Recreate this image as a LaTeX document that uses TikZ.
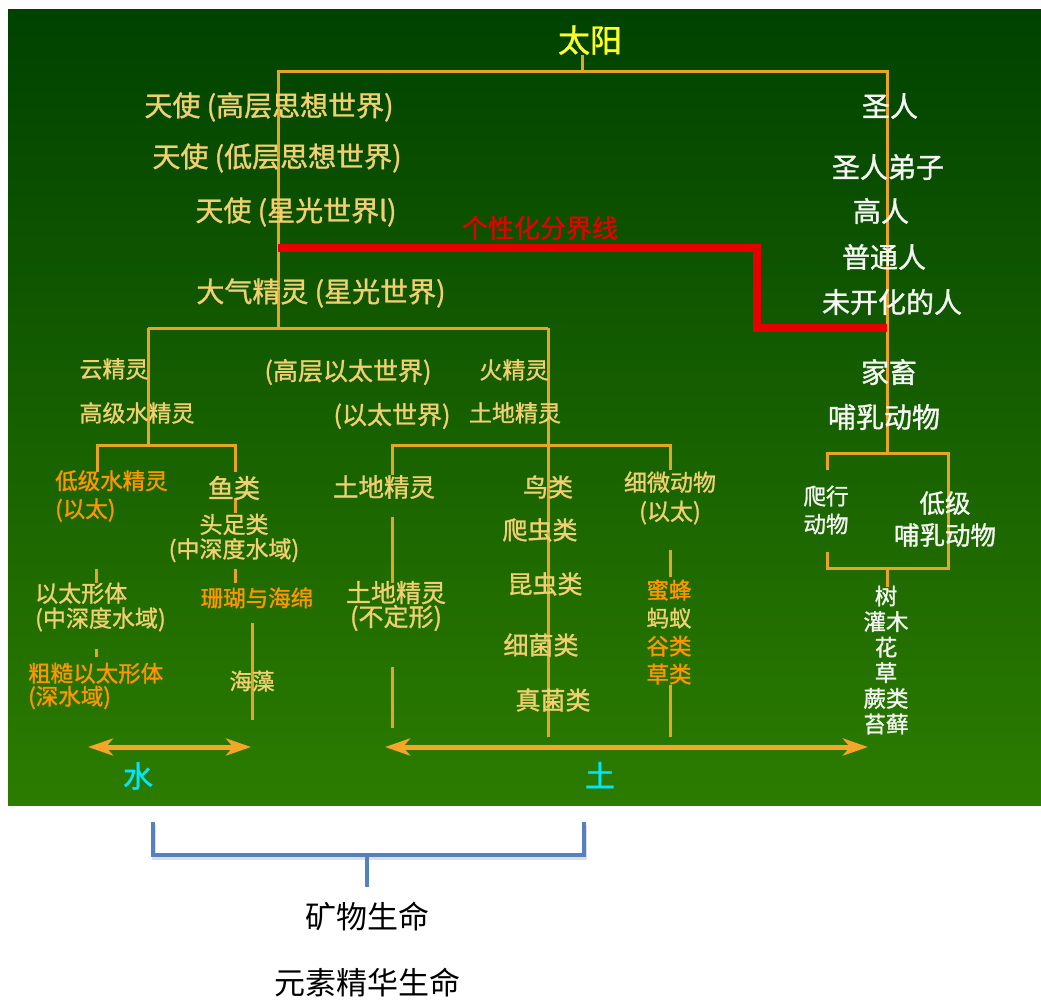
\documentclass[tikz,border=0pt]{standalone}
\usepackage{fontspec}
\setmainfont{Noto Sans CJK SC}
\newfontfamily\gfont[FakeBold=1.2]{Noto Sans CJK SC}
\usetikzlibrary{arrows.meta}
\definecolor{bgtop}{RGB}{0,66,0}
\definecolor{bgbot}{RGB}{44,124,0}
\definecolor{gline}{RGB}{230,165,35}
\definecolor{pale}{RGB}{240,208,112}
\definecolor{orng}{RGB}{255,150,0}
\definecolor{wht}{RGB}{245,245,245}
\definecolor{sunc}{RGB}{255,255,40}
\definecolor{redl}{RGB}{230,0,0}
\definecolor{cyanc}{RGB}{0,230,255}
\definecolor{brk}{RGB}{84,130,190}
\definecolor{arr}{RGB}{245,165,40}
\begin{document}
\begin{tikzpicture}[x=1pt,y=-1pt,
  lbl/.style={inner sep=0pt, align=center},
  fs/.style 2 args={font=\gfont\fontsize{#1}{#2}\selectfont},
  gl/.style={draw=gline, line width=3pt},
  dbl/.style={draw=arr, line width=5pt, {Stealth[length=25pt,width=17pt,inset=7pt]}-{Stealth[length=25pt,width=17pt,inset=7pt]}},
  pl/.style={lbl, text=pale},
  og/.style={lbl, text=orng},
  wt/.style={lbl, text=wht},
  bt/.style={lbl, text=black, font=\fontsize{31}{35}\selectfont},
]
\useasboundingbox (0,0) rectangle (1041,999);
\fill[white] (0,0) rectangle (1041,999);
\shade[top color=bgtop, bottom color=bgbot] (8,9) rectangle (1041,805);

% coordinates
\coordinate (sunstem) at (582,55);
\coordinate (tm) at (582,71);
\coordinate (tl) at (278,71);
\coordinate (tr) at (887,71);
\coordinate (lb) at (278,328);
\coordinate (hl) at (148,328);
\coordinate (hr) at (548,328);
\coordinate (wj) at (148,445);
\coordinate (wl) at (97,445);
\coordinate (wr) at (235,445);
\coordinate (el) at (392,445);
\coordinate (er) at (670,445);
\coordinate (rj) at (887,453);
\coordinate (rl) at (827,453);
\coordinate (rr) at (948,453);
\coordinate (rbl) at (827,568);
\coordinate (rbr) at (948,568);
\coordinate (rbm) at (887,568);

% gold tree lines
\draw[gl] (sunstem) -- (tm);
\draw[gl] (lb) -- (tl) -- (tr) -- (rj);
\draw[gl] (hl) -- (hr);
\draw[gl] (hl) -- (wj);
\draw[gl] (wl |- 0,472) -- (wl) -- (wr) -- (wr |- 0,472);
\draw[gl] (235,498) -- (235,513);
\draw[gl] (96,569) -- (96,583);
\draw[gl] (235,569) -- (235,583);
\draw[gl] (96,649) -- (96,657);
\draw[gl] (252,623) -- (252,720);
\draw[gl] (hr) -- (548,737);
\draw[gl] (el |- 0,475) -- (el) -- (er) -- (er |- 0,470);
\draw[gl] (392,517) -- (392,583);
\draw[gl] (392,667) -- (392,728);
\draw[gl] (670,550) -- (670,577);
\draw[gl] (670,685) -- (670,737);
\draw[gl] (rl |- 0,470) -- (rl) -- (rr) -- (rbr) -- (rbl) -- (rl |- 0,552);
\draw[gl] (rbm) -- (887,587);

% red boundary line
\draw[redl, line width=8pt] (278,248) -- (757,248) -- (757,328) -- (887,328);

% arrows
\coordinate (wa1) at (88,747);
\coordinate (wa2) at (251,747);
\coordinate (ea1) at (385,747);
\coordinate (ea2) at (868,747);
\draw[dbl] (wa1) -- (wa2);
\draw[dbl] (ea1) -- (ea2);

% texts
\node[lbl, fs={32}{36}, text=sunc] (sun) at (590,40) {太阳};
\node[pl, fs={28}{32}] (a1) at (269,107) {天使 (高层思想世界)};
\node[pl, fs={28}{32}] (a2) at (277,158) {天使 (低层思想世界)};
\node[pl, fs={28}{32}] (a3) at (296,212) {天使 (星光世界l)};
\node[pl, fs={28}{32}] (a4) at (321,293) {大气精灵 (星光世界)};
\node[lbl, fs={26}{30}, text=redl] (redlbl) at (540,228) {个性化分界线};

\node[wt, fs={28}{32}] (r1) at (890,106) {圣人};
\node[wt, fs={28}{32}] (r2) at (888,167) {圣人弟子};
\node[wt, fs={28}{32}] (r3) at (881,211) {高人};
\node[wt, fs={28}{32}] (r4) at (884,257) {普通人};
\node[wt, fs={28}{32}] (r5) at (892,302) {未开化的人};
\node[wt, fs={28}{32}] (r6) at (889,372) {家畜};
\node[wt, fs={28}{32}] (r7) at (884,417) {哺乳动物};
\node[wt, fs={22.5}{28}] (r8) at (826,510) {爬行\\动物};
\node[wt, fs={25.5}{32}] (r9) at (945,519) {低级\\哺乳动物};
\node[wt, fs={22.5}{25.6}] (r10) at (886,660) {树\\灌木\\花\\草\\蕨类\\苔藓};

\node[pl, fs={23}{27}] (m1) at (114,369) {云精灵};
\node[pl, fs={23}{27}] (m2) at (137,413) {高级水精灵};
\node[pl, fs={25}{29}] (m3) at (348,372) {(高层以太世界)};
\node[pl, fs={23}{27}] (m4) at (514,370) {火精灵};
\node[pl, fs={25}{29}] (m5) at (392,416) {(以太世界)};
\node[pl, fs={23}{27}] (m6) at (515,413) {土地精灵};

\node[og, fs={22.5}{28}, align=left, anchor=west] (w1) at (55,496) {低级水精灵\\(以太)};
\node[pl, fs={26}{30}] (w2) at (234,488) {鱼类};
\node[pl, fs={23}{24.5}] (w3) at (234,538) {头足类\\(中深度水域)};
\node[pl, fs={23}{25}, align=left, anchor=west] (w4) at (35,607) {以太形体\\(中深度水域)};
\node[og, fs={22.5}{26}] (w5) at (257,598) {珊瑚与海绵};
\node[og, fs={22.5}{23}, align=left, anchor=west] (w6) at (28,686) {粗糙以太形体\\(深水域)};
\node[pl, fs={22.5}{26}] (w7) at (252,681) {海藻};
\node[lbl, fs={30}{34}, text=cyanc] (water) at (138,776) {水};

\node[pl, fs={25.5}{30}] (e1) at (384,487) {土地精灵};
\node[pl, fs={25}{24}] (e2) at (396,606) {土地精灵\\(不定形)};
\node[pl, fs={25}{29}] (e3) at (548,487) {鸟类};
\node[pl, fs={25}{29}] (e4) at (540,530) {爬虫类};
\node[pl, fs={25}{29}] (e5) at (545,584) {昆虫类};
\node[pl, fs={25}{29}] (e6) at (541,645) {细菌类};
\node[pl, fs={25}{29}] (e7) at (553,700) {真菌类};
\node[pl, fs={23}{29}] (e8) at (670,498) {细微动物\\(以太)};
\node[lbl, fs={22.5}{28}] (e9) at (669,632) {\textcolor{orng}{蜜蜂}\\\textcolor{pale}{蚂蚁}\\\textcolor{orng}{谷类}\\\textcolor{orng}{草类}};
\node[lbl, fs={30}{34}, text=cyanc] (earth) at (600,775) {土};

% bottom bracket
\coordinate (b1) at (153,822);
\coordinate (b2) at (153,855);
\coordinate (b3) at (584,855);
\coordinate (b4) at (584,822);
\coordinate (bm) at (367,855);
\coordinate (bs) at (367,887);
\draw[black!25, line width=4.5pt, opacity=0.5] ([xshift=1pt,yshift=-2.5pt]b1) -- ([xshift=1pt,yshift=-2.5pt]b2) -- ([xshift=1pt,yshift=-2.5pt]b3) -- ([xshift=1pt,yshift=-2.5pt]b4);
\draw[brk, line width=4.5pt] (b1) -- (b2) -- (b3) -- (b4);
\draw[brk, line width=4.5pt] (bm) -- (bs);
\node[bt] (min) at (367,917) {矿物生命};
\node[bt] (ele) at (367,983) {元素精华生命};
\end{tikzpicture}
\end{document}
